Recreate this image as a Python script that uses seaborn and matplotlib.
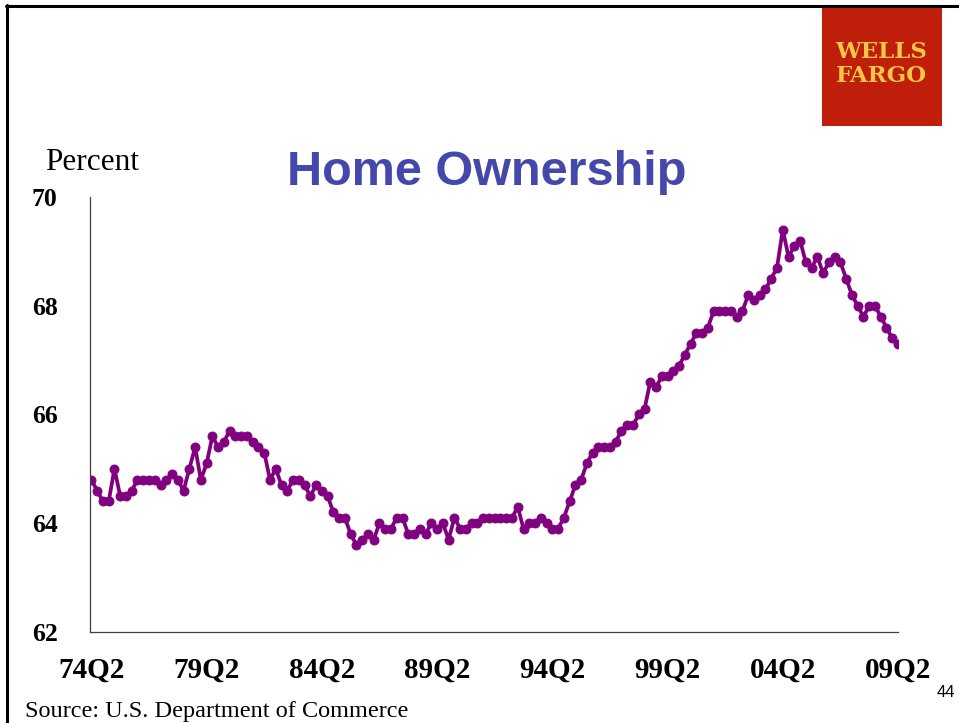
import matplotlib
matplotlib.use("Agg")
import matplotlib.pyplot as plt
from matplotlib.lines import Line2D
from matplotlib.patches import Rectangle
import numpy as np
import pandas as pd
import seaborn as sns

# Home ownership rate, percent, quarterly from 74Q2 through 09Q2
rate_74q2_79q1 = [64.8, 64.6, 64.4, 64.4, 65.0, 64.5, 64.5, 64.6, 64.8, 64.8,
                  64.8, 64.8, 64.7, 64.8, 64.9, 64.8, 64.6, 65.0, 65.4, 64.8]
rate_79q2_84q1 = [65.1, 65.6, 65.4, 65.5, 65.7, 65.6, 65.6, 65.6, 65.5, 65.4,
                  65.3, 64.8, 65.0, 64.7, 64.6, 64.8, 64.8, 64.7, 64.5, 64.7]
rate_84q2_89q1 = [64.6, 64.5, 64.2, 64.1, 64.1, 63.8, 63.6, 63.7, 63.8, 63.7,
                  64.0, 63.9, 63.9, 64.1, 64.1, 63.8, 63.8, 63.9, 63.8, 64.0]
rate_89q2_94q1 = [63.9, 64.0, 63.7, 64.1, 63.9, 63.9, 64.0, 64.0, 64.1, 64.1,
                  64.1, 64.1, 64.1, 64.1, 64.3, 63.9, 64.0, 64.0, 64.1, 64.0]
rate_94q2_99q1 = [63.9, 63.9, 64.1, 64.4, 64.7, 64.8, 65.1, 65.3, 65.4, 65.4,
                  65.4, 65.5, 65.7, 65.8, 65.8, 66.0, 66.1, 66.6, 66.5, 66.7]
rate_99q2_04q1 = [66.7, 66.8, 66.9, 67.1, 67.3, 67.5, 67.5, 67.6, 67.9, 67.9,
                  67.9, 67.9, 67.8, 67.9, 68.2, 68.1, 68.2, 68.3, 68.5, 68.7]
rate_04q2_09q2 = [69.4, 68.9, 69.1, 69.2, 68.8, 68.7, 68.9, 68.6, 68.8, 68.9,
                  68.8, 68.5, 68.2, 68.0, 67.8, 68.0, 68.0, 67.8, 67.6, 67.4,
                  67.3]

tick_labels = ["74Q2", "79Q2", "84Q2", "89Q2", "94Q2", "99Q2", "04Q2", "09Q2"]
y_ticks = [62, 64, 66, 68, 70]

rate = (rate_74q2_79q1 + rate_79q2_84q1 + rate_84q2_89q1 + rate_89q2_94q1
        + rate_94q2_99q1 + rate_99q2_04q1 + rate_04q2_09q2)
df = pd.DataFrame({"quarter": np.arange(len(rate)), "rate": rate})

sns.set_theme(style="white")
plt.rcParams["font.family"] = ["Liberation Serif", "DejaVu Serif"]

fig = plt.figure(figsize=(9.59, 7.23), dpi=100)
fig.patch.set_facecolor("white")
ax = fig.add_axes([0.0938, 0.1259, 0.8426, 0.6016])

sns.lineplot(data=df, x="quarter", y="rate", ax=ax, color="#800080",
             linewidth=2.7, marker="o", markersize=6.4,
             markeredgecolor="#800080", markerfacecolor="#800080")

ax.set_xlim(-0.25, 140.0)
ax.set_ylim(62, 70)
ax.set_xticks(np.arange(0, 141, 20))
ax.set_xticklabels(tick_labels)
ax.set_yticks(y_ticks)
ax.set_yticklabels([str(v) for v in y_ticks])
ax.set_xlabel("")
ax.set_ylabel("")

for side in ("top", "right"):
    ax.spines[side].set_visible(False)
for side in ("left", "bottom"):
    ax.spines[side].set_color("#404040")
    ax.spines[side].set_linewidth(0.9)

ax.tick_params(axis="y", direction="out", length=7.2, width=0.9,
               color="#404040", pad=16, labelsize=18.5)
ax.tick_params(axis="x", direction="out", length=5, width=0.9,
               color="#404040", pad=13, labelsize=21)
for lab in ax.get_xticklabels() + ax.get_yticklabels():
    lab.set_fontweight("bold")
    lab.set_color("black")

# Title and side texts
fig.text(0.5073, 0.7441, "Home Ownership", ha="center", va="baseline",
         fontsize=35, fontweight="bold", color="#4348AA",
         family=["Liberation Sans", "DejaVu Sans"])
fig.text(45 / 959, 1 - 170 / 723, "Percent", ha="left", va="baseline",
         fontsize=22.5, color="black")
fig.text(25 / 959, 1 - 717 / 723, "Source: U.S. Department of Commerce",
         ha="left", va="baseline", fontsize=17.5, color="black")
fig.text(946 / 959, 1 - 697 / 723, "44", ha="center", va="baseline",
         fontsize=12, color="black", family=["Liberation Sans", "DejaVu Sans"])

# Slide frame lines
fig.add_artist(Line2D([6 / 959, 1.0], [1 - 6 / 723, 1 - 6 / 723],
                      transform=fig.transFigure, color="black", linewidth=2.2))
fig.add_artist(Line2D([7 / 959, 7 / 959], [1 - 5 / 723, 0.0],
                      transform=fig.transFigure, color="black", linewidth=2.2))

# Logo block
fig.add_artist(Rectangle((822 / 959, 1 - 126 / 723), 120 / 959, 118 / 723,
                         transform=fig.transFigure, facecolor="#BE1E0A",
                         edgecolor="none"))
fig.text(881 / 959, 1 - 58 / 723, "WELLS", ha="center", va="baseline",
         fontsize=16.5, fontweight="bold", color="#F8C646",
         family=["DejaVu Serif"])
fig.text(881 / 959, 1 - 82 / 723, "FARGO", ha="center", va="baseline",
         fontsize=16.5, fontweight="bold", color="#F8C646",
         family=["DejaVu Serif"])

fig.savefig("out.png", dpi=100, facecolor="white")
